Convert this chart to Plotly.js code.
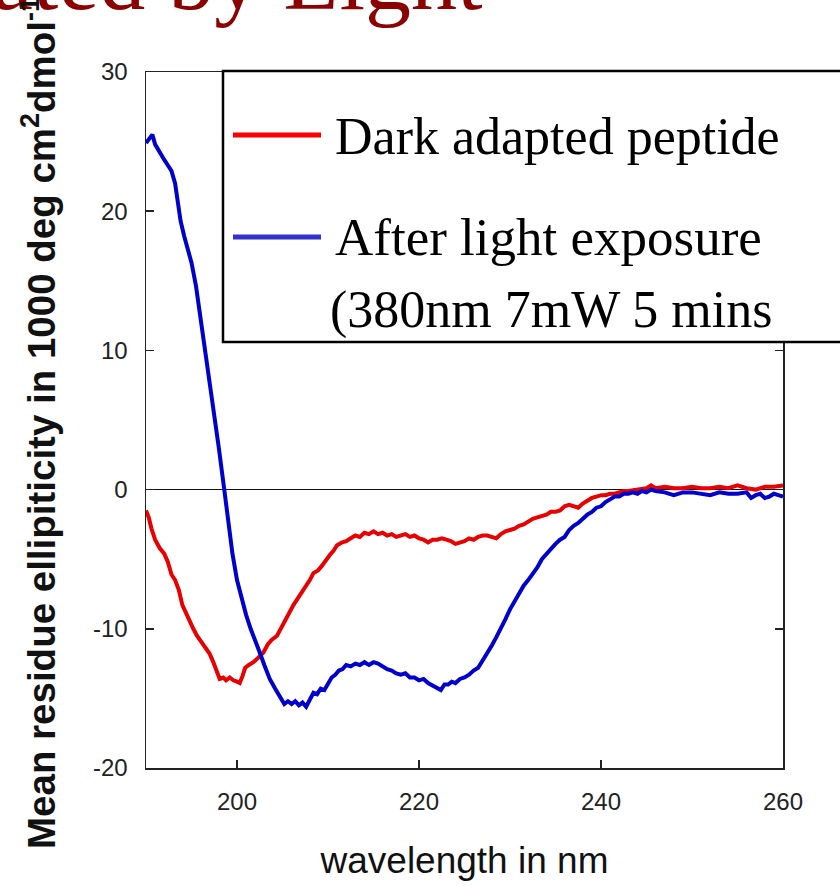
<!DOCTYPE html>
<html>
<head>
<meta charset="utf-8">
<script src="https://cdn.plot.ly/plotly-3.0.1.min.js"></script>
<style>html,body{margin:0;padding:0;background:#fff;}#chart{width:840px;height:886px;}</style>
</head>
<body>
<div id="chart"></div>
<script>
// Dark adapted peptide (red)
const darkWavelength = [190.0,190.3,190.6,191.0,191.5,192.0,192.4,192.8,193.2,193.6,194.0,194.4,194.8,195.2,195.6,196.0,196.5,197.0,197.4,197.8,198.1,198.5,198.8,199.2,199.6,200.0,200.3,200.6,200.9,201.3,201.8,202.3,202.9,203.4,203.8,204.4,204.8,205.2,205.7,206.2,206.7,207.1,207.6,208.0,208.4,208.9,209.3,209.8,210.2,210.6,211.0,211.5,212.0,212.5,213.0,213.5,214.0,214.5,215.0,215.5,216.0,216.5,217.0,217.5,218.0,218.5,219.0,219.5,220.0,220.5,221.0,221.5,222.0,222.5,223.0,223.5,224.0,224.5,225.0,225.5,226.0,226.5,227.0,227.5,228.0,228.5,229.0,229.5,230.0,230.5,231.0,231.5,232.0,232.5,233.0,233.5,234.0,234.5,235.0,235.5,236.0,236.5,237.0,237.5,238.0,238.5,239.0,239.5,240.0,240.5,241.0,241.5,242.0,242.5,243.0,244.0,245.0,245.5,246.0,247.0,248.0,249.0,250.0,251.0,252.0,253.0,254.0,255.0,256.0,257.0,258.0,259.0,260.0];
const darkEllipticity = [-1.5,-2.0,-2.8,-3.6,-4.2,-4.6,-5.2,-6.1,-6.5,-7.2,-8.3,-8.9,-9.4,-10.0,-10.5,-10.9,-11.3,-11.8,-12.4,-13.1,-13.6,-13.5,-13.7,-13.5,-13.7,-13.8,-13.9,-13.4,-12.8,-12.6,-12.4,-12.1,-11.7,-11.1,-10.8,-10.5,-10.0,-9.5,-8.9,-8.3,-7.8,-7.4,-7.0,-6.5,-6.0,-5.8,-5.5,-5.0,-4.7,-4.4,-4.0,-3.8,-3.7,-3.5,-3.3,-3.4,-3.1,-3.2,-3.0,-3.2,-3.1,-3.3,-3.2,-3.4,-3.3,-3.2,-3.4,-3.3,-3.5,-3.6,-3.8,-3.6,-3.6,-3.5,-3.6,-3.7,-3.9,-3.8,-3.7,-3.5,-3.6,-3.4,-3.3,-3.3,-3.4,-3.5,-3.2,-3.0,-2.9,-2.8,-2.6,-2.5,-2.3,-2.1,-2.0,-1.9,-1.8,-1.6,-1.6,-1.5,-1.2,-1.1,-1.2,-1.3,-1.0,-0.8,-0.6,-0.5,-0.4,-0.4,-0.3,-0.3,-0.2,-0.1,-0.1,0.0,0.1,0.3,0.1,0.2,0.1,0.1,0.2,0.1,0.1,0.2,0.1,0.3,0.1,0.0,0.2,0.2,0.3];

// After light exposure (blue)
const lightWavelength = [190.0,190.4,190.7,191.0,191.5,192.0,192.4,192.8,193.2,193.5,193.8,194.2,194.6,195.0,195.5,196.0,196.5,197.0,197.5,198.0,198.6,199.0,199.5,200.0,200.5,201.0,201.5,202.0,202.5,203.0,203.6,204.2,204.8,205.2,205.6,206.0,206.4,206.8,207.2,207.6,208.0,208.4,208.8,209.2,209.6,210.0,210.4,210.8,211.2,211.6,212.0,212.5,213.0,213.5,214.0,214.5,215.0,215.5,216.0,216.5,217.0,217.5,218.0,218.5,219.0,219.5,220.0,220.5,221.0,221.5,222.0,222.4,222.8,223.2,223.6,224.0,224.5,225.0,225.5,226.0,226.5,227.0,227.5,228.0,228.5,229.0,229.5,230.0,230.5,231.0,231.5,232.0,232.5,233.0,233.5,234.0,234.5,235.0,235.5,236.0,236.5,237.0,237.5,238.0,238.5,239.0,239.5,240.0,240.5,241.0,241.5,242.0,242.5,243.0,243.5,244.0,244.5,245.0,245.5,246.0,247.0,248.0,249.0,250.0,251.0,252.0,253.0,254.0,255.0,256.0,256.5,257.0,257.5,258.0,258.5,259.0,259.5,260.0];
const lightEllipticity = [24.9,25.3,25.5,24.8,24.2,23.7,23.3,22.9,22.0,20.5,19.3,18.2,17.2,16.3,14.6,12.3,10.0,7.8,5.6,3.0,0.0,-2.3,-4.6,-6.5,-7.8,-9.0,-10.0,-10.8,-11.7,-12.6,-13.6,-14.3,-15.0,-15.4,-15.2,-15.4,-15.2,-15.5,-15.3,-15.6,-15.1,-14.6,-14.7,-14.3,-14.4,-14.0,-13.5,-13.3,-13.0,-12.9,-12.6,-12.7,-12.5,-12.6,-12.4,-12.6,-12.4,-12.5,-12.7,-12.9,-13.0,-13.2,-13.3,-13.2,-13.5,-13.5,-13.7,-13.6,-13.9,-14.1,-14.3,-14.4,-14.0,-14.0,-13.8,-13.9,-13.6,-13.5,-13.3,-13.0,-12.8,-12.3,-11.8,-11.2,-10.6,-10.0,-9.3,-8.6,-8.0,-7.4,-6.9,-6.5,-6.1,-5.6,-5.0,-4.6,-4.3,-3.9,-3.6,-3.4,-2.9,-2.6,-2.4,-2.1,-1.8,-1.6,-1.3,-1.2,-0.9,-0.7,-0.5,-0.5,-0.3,-0.3,-0.2,-0.3,-0.1,-0.2,0.0,-0.1,-0.2,-0.4,-0.2,-0.2,-0.3,-0.4,-0.2,-0.3,-0.3,-0.2,-0.6,-0.4,-0.3,-0.6,-0.5,-0.3,-0.4,-0.5];

const xTickVals = [200, 220, 240, 260];
const xTickText = ["200", "220", "240", "260"];
const yTickVals = [-20, -10, 0, 10, 20, 30];
const yTickText = ["-20", "-10", "0", "10", "20", "30"];

const seriesNames = ["Dark adapted peptide", "After light exposure"];
const legendNote = "(380nm 7mW 5 mins";
const titleText = "ated by Light";
const xTitle = "wavelength in nm";
const yTitle = "Mean residue ellipiticity in 1000 deg cm<sup>2</sup>dmol<sup>-1</sup>";

const traces = [
  {x: darkWavelength, y: darkEllipticity, name: seriesNames[0], type: 'scatter', mode: 'lines',
   line: {color: '#e80000', width: 4}},
  {x: lightWavelength, y: lightEllipticity, name: seriesNames[1], type: 'scatter', mode: 'lines',
   line: {color: '#0000cc', width: 4}}
];

const W = 840, H = 886, L = 146, R = 57, T = 72, B = 118;
const pw = W - L - R, ph = H - T - B;
const px = v => (v - L) / pw;
const py = v => (H - B - v) / ph;

const axisFont = {family: 'Liberation Sans, Arial, sans-serif', size: 24, color: '#222'};

const layout = {
  width: W, height: H,
  margin: {l: L, r: R, t: T, b: B, pad: 0},
  paper_bgcolor: '#fff', plot_bgcolor: '#fff',
  showlegend: false,
  xaxis: {
    range: [190, 260], tickvals: xTickVals, ticktext: xTickText,
    ticks: 'inside', ticklen: 8, tickwidth: 1.5, tickcolor: '#222',
    showline: true, linecolor: '#222', linewidth: 1.5, mirror: 'ticks',
    showgrid: false, zeroline: false, tickfont: axisFont, ticklabelstandoff: 12,
    title: {text: xTitle, font: {family: 'Liberation Sans, Arial, sans-serif', size: 37, color: '#111'}, standoff: 33}
  },
  yaxis: {
    range: [-20, 30], tickvals: yTickVals, ticktext: yTickText,
    ticks: 'inside', ticklen: 8, tickwidth: 1.5, tickcolor: '#222',
    showline: true, linecolor: '#222', linewidth: 1.5, mirror: 'ticks',
    showgrid: false, zeroline: true, zerolinecolor: '#111', zerolinewidth: 1.5,
    tickfont: axisFont, ticklabelstandoff: 12
  },
  shapes: [
    {type: 'rect', xref: 'paper', yref: 'paper', x0: px(223), x1: px(845), y0: py(342), y1: py(71),
     fillcolor: '#fff', line: {color: '#000', width: 2.5}, layer: 'above'},
    {type: 'line', xref: 'paper', yref: 'paper', x0: px(233), x1: px(321), y0: py(135), y1: py(135),
     line: {color: '#ff0000', width: 5}, layer: 'above'},
    {type: 'line', xref: 'paper', yref: 'paper', x0: px(233), x1: px(321), y0: py(237), y1: py(237),
     line: {color: '#3333cc', width: 5}, layer: 'above'}
  ],
  annotations: [
    {text: seriesNames[0], xref: 'paper', yref: 'paper', x: px(333), y: py(137), xanchor: 'left', yanchor: 'middle',
     showarrow: false, font: {family: 'Liberation Serif, Times New Roman, serif', size: 52, color: '#000'}},
    {text: seriesNames[1], xref: 'paper', yref: 'paper', x: px(333), y: py(237), xanchor: 'left', yanchor: 'middle',
     showarrow: false, font: {family: 'Liberation Serif, Times New Roman, serif', size: 53, color: '#000'}},
    {text: legendNote, xref: 'paper', yref: 'paper', x: px(328), y: py(310), xanchor: 'left', yanchor: 'middle',
     showarrow: false, font: {family: 'Liberation Serif, Times New Roman, serif', size: 52, color: '#000'}},
    {text: titleText, xref: 'paper', yref: 'paper', x: px(485), y: py(-22), xanchor: 'right', yanchor: 'middle',
     showarrow: false, font: {family: 'Liberation Serif, Times New Roman, serif', size: 92, color: '#8b0000'}},
    {text: yTitle, xref: 'paper', yref: 'paper', x: px(39), y: py(423), xanchor: 'center', yanchor: 'middle',
     textangle: -90, showarrow: false,
     font: {family: 'Liberation Sans, Arial, sans-serif', size: 38.5, color: '#111', weight: 'bold'}}
  ]
};

Plotly.newPlot('chart', traces, layout, {displayModeBar: false, staticPlot: true});
</script>
</body>
</html>
